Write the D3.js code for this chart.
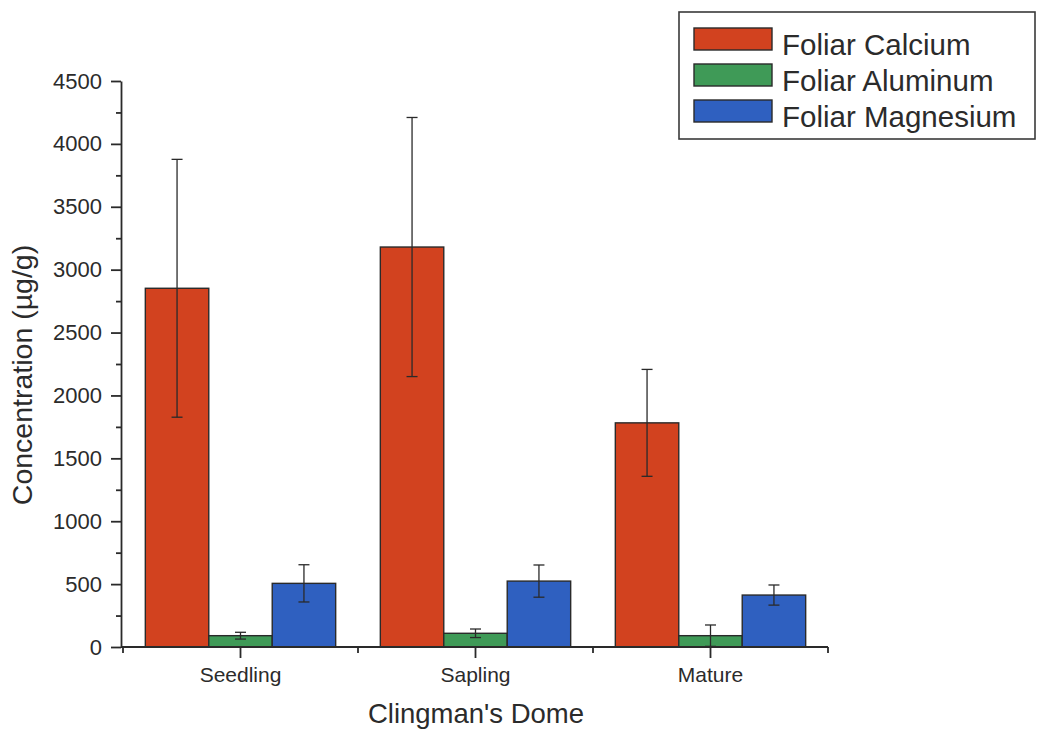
<!DOCTYPE html>
<html>
<head>
<meta charset="utf-8">
<script src="https://cdn.jsdelivr.net/npm/d3@7"></script>
<style>
  html, body { margin: 0; padding: 0; background: #ffffff; }
  svg { display: block; }
  text { font-family: "Liberation Sans", Arial, sans-serif; fill: #2b2b2b; }
</style>
</head>
<body>
<svg id="chart" width="1037" height="730"></svg>
<script>
// Foliar nutrient concentrations by growth stage, Clingman's Dome
const categories = ["Seedling", "Sapling", "Mature"];
const seriesNames = ["Foliar Calcium", "Foliar Aluminum", "Foliar Magnesium"];
const calcium = [2852, 3180, 1782];
const calciumErr = [1025, 1030, 425];
const aluminum = [90, 109, 90];
const aluminumErr = [27, 34, 85];
const magnesium = [506, 524, 413];
const magnesiumErr = [148, 128, 80];
const yTicks = [0, 500, 1000, 1500, 2000, 2500, 3000, 3500, 4000, 4500];
const yMinorTicks = [250, 750, 1250, 1750, 2250, 2750, 3250, 3750, 4250];
const colors = ["#d2421f", "#3f9a57", "#2f60c0"];

const values = [calcium, aluminum, magnesium];
const errors = [calciumErr, aluminumErr, magnesiumErr];

const rows = [];
categories.forEach((c, i) => {
  seriesNames.forEach((s, j) => {
    rows.push({ category: c, series: s, value: values[j][i], err: errors[j][i], color: colors[j] });
  });
});

const svg = d3.select("#chart");
const axisX = 121;     // y-axis position
const baseY = 647;     // x-axis position

const y = d3.scaleLinear().domain([0, 4500]).range([baseY, 81]);
const x0 = d3.scaleBand().domain(categories).range([123, 828])
  .paddingInner(0.19).paddingOuter(0.095);
const x1 = d3.scaleBand().domain(seriesNames).range([0, x0.bandwidth()]);

// bars
svg.append("g").selectAll("rect").data(rows).join("rect")
  .attr("x", d => x0(d.category) + x1(d.series))
  .attr("y", d => y(d.value))
  .attr("width", x1.bandwidth())
  .attr("height", d => baseY - y(d.value))
  .attr("fill", d => d.color)
  .attr("stroke", "#2a2a2a")
  .attr("stroke-width", 1.4);

// error bars
const eb = svg.append("g").attr("stroke", "#2a2a2a").attr("stroke-width", 1.3).attr("fill", "none");
const cap = 5.5;
rows.forEach(d => {
  const cx = x0(d.category) + x1(d.series) + x1.bandwidth() / 2;
  const lo = Math.max(0, d.value - d.err);
  const hi = d.value + d.err;
  eb.append("line").attr("x1", cx).attr("x2", cx).attr("y1", y(hi)).attr("y2", y(lo));
  eb.append("line").attr("x1", cx - cap).attr("x2", cx + cap).attr("y1", y(hi)).attr("y2", y(hi));
  if (lo > 0) eb.append("line").attr("x1", cx - cap).attr("x2", cx + cap).attr("y1", y(lo)).attr("y2", y(lo));
});

// y axis
const yAxis = svg.append("g").attr("transform", `translate(${axisX},0)`)
  .call(d3.axisLeft(y).tickValues(yTicks).tickFormat(d3.format("d"))
    .tickSize(10).tickPadding(9).tickSizeOuter(0));
svg.append("g").attr("transform", `translate(${axisX},0)`)
  .call(d3.axisLeft(y).tickValues(yMinorTicks).tickSize(5).tickFormat("").tickSizeOuter(0))
  .select(".domain").remove();
yAxis.selectAll("text").attr("font-size", 22).attr("fill", "#2b2b2b");

// x axis
const xAxisG = svg.append("g").attr("transform", `translate(0,${baseY})`);
xAxisG.append("line").attr("x1", axisX).attr("x2", 828).attr("y1", 0).attr("y2", 0);
const xAxis = xAxisG.append("g")
  .call(d3.axisBottom(x0).tickSize(11).tickPadding(9).tickSizeOuter(0));
xAxis.select(".domain").remove();
xAxis.selectAll("text").attr("font-size", 21).attr("fill", "#2b2b2b");
const bounds = [0, 1, 2, 3].map(i => x0.range()[0] + i * x0.step());
xAxisG.selectAll("line.minor").data(bounds).join("line").attr("class", "minor")
  .attr("x1", d => d).attr("x2", d => d).attr("y1", 0).attr("y2", 6);

svg.selectAll(".domain, .tick line, line.minor").attr("stroke", "#2a2a2a").attr("stroke-width", 1.8);
xAxisG.select("line").attr("stroke", "#2a2a2a").attr("stroke-width", 1.8);

// axis titles
svg.append("text").attr("x", 476).attr("y", 723).attr("text-anchor", "middle")
  .attr("font-size", 27.5).text("Clingman's Dome");
svg.append("text").attr("transform", "translate(32,375) rotate(-90)")
  .attr("text-anchor", "middle").attr("font-size", 28.5).text("Concentration (\u00b5g/g)");

// legend
const lg = svg.append("g");
lg.append("rect").attr("x", 679).attr("y", 12).attr("width", 356).attr("height", 127)
  .attr("fill", "#ffffff").attr("stroke", "#3a3a3a").attr("stroke-width", 1.6);
seriesNames.forEach((s, j) => {
  const top = 28 + j * 36;
  lg.append("rect").attr("x", 694).attr("y", top).attr("width", 78).attr("height", 22)
    .attr("fill", colors[j]).attr("stroke", "#2a2a2a").attr("stroke-width", 1.4);
  lg.append("text").attr("x", 782).attr("y", top + 27).attr("font-size", 29.5).text(s);
});
</script>
</body>
</html>
